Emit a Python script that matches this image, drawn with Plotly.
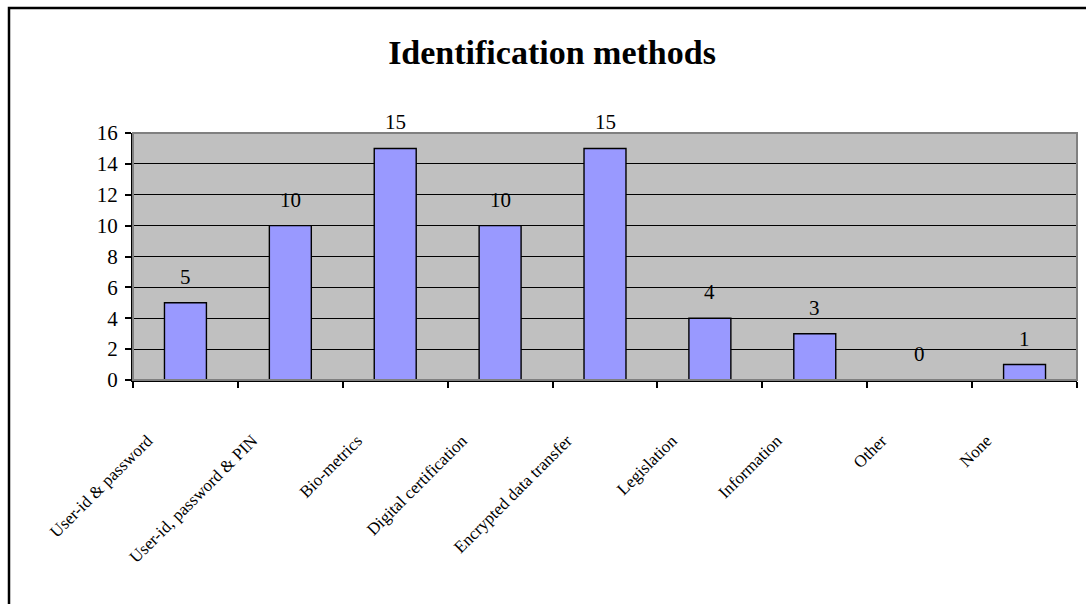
import plotly.graph_objects as go

# Survey responses: identification methods in use
categories = [
    "User-id & password",
    "User-id, password & PIN",
    "Bio-metrics",
    "Digital certification",
    "Encrypted data transfer",
    "Legislation",
    "Information",
    "Other",
    "None",
]
counts = [5, 10, 15, 10, 15, 4, 3, 0, 1]
y_ticks = [0, 2, 4, 6, 8, 10, 12, 14, 16]

W, H = 1086, 604
M_L, M_R, M_T, M_B = 133, 9, 133, 224
PW, PH = W - M_L - M_R, H - M_T - M_B

SERIF = "Liberation Serif, Times New Roman, serif"

fig = go.Figure()
fig.add_trace(
    go.Bar(
        x=categories,
        y=counts,
        marker=dict(color="#9999FF", line=dict(color="black", width=1.4)),
        hoverinfo="x+y",
    )
)

# value labels floating above each bar
for cat, v in zip(categories, counts):
    fig.add_annotation(
        x=cat, y=v, xref="x", yref="y", text=str(v), showarrow=False,
        yshift=26, yanchor="middle",
        font=dict(family=SERIF, size=21, color="black"),
    )

# gray frame around the plotting area (top/right edges visible)
fig.add_shape(
    type="rect", xref="paper", yref="paper", x0=0, x1=1, y0=0, y1=1,
    line=dict(color="#808080", width=2), fillcolor="rgba(0,0,0,0)", layer="above",
)

# outer chart border
def px_x(px):
    return (px - M_L) / PW

def px_y(py):
    return 1 - (py - M_T) / PH

fig.add_shape(
    type="rect", xref="paper", yref="paper",
    x0=px_x(9), x1=px_x(1096), y0=px_y(612), y1=px_y(8),
    line=dict(color="black", width=2.5), fillcolor="rgba(0,0,0,0)",
)

fig.update_layout(
    width=W, height=H,
    margin=dict(l=M_L, r=M_R, t=M_T, b=M_B, pad=0),
    paper_bgcolor="white",
    plot_bgcolor="#C0C0C0",
    bargap=0.6,
    showlegend=False,
    title=dict(
        text="<b>Identification methods</b>",
        x=552 / W, xanchor="center", xref="container",
        y=1 - 52 / H, yanchor="middle", yref="container",
        font=dict(family=SERIF, size=34, color="black"),
    ),
    font=dict(family=SERIF, color="black"),
)

fig.update_xaxes(
    type="category",
    tickson="boundaries",
    ticks="outside", ticklen=6, tickwidth=1.5, tickcolor="black",
    showline=True, linecolor="black", linewidth=2,
    showgrid=False,
    tickangle=-45,
    tickfont=dict(family=SERIF, size=17, color="black"),
    ticklabelshift=-38,
    ticklabelstandoff=42,
)
fig.update_yaxes(
    range=[0, 16],
    tickvals=y_ticks,
    ticks="outside", ticklen=6, tickwidth=1.5, tickcolor="black",
    showline=True, linecolor="black", linewidth=2,
    showgrid=True, gridcolor="black", gridwidth=1.2,
    zeroline=False,
    tickfont=dict(family=SERIF, size=21, color="black"),
    ticklabelstandoff=3,
)

fig.write_html("out.html")
